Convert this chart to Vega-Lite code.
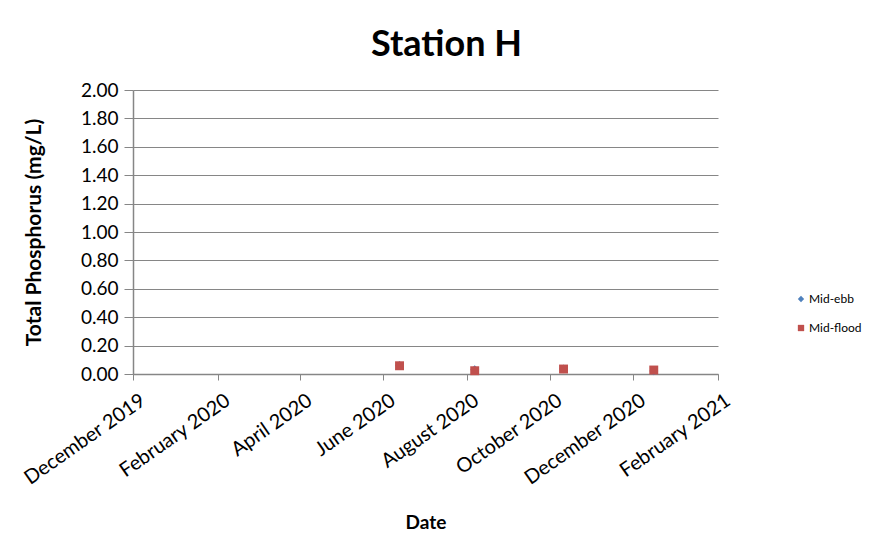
{
  "$schema": "https://vega.github.io/schema/vega-lite/v6.json",
  "autosize": "none",
  "width": 585,
  "height": 284,
  "padding": {"left": 133, "top": 90, "right": 152, "bottom": 179},
  "background": "white",
  "config": {"font": "Lato", "view": {"stroke": null}},
  "title": {"text": "Station H", "fontSize": 36, "fontWeight": "bold", "font": "Lato", "color": "#000000", "anchor": "middle", "dx": 21, "offset": 17},
  "data": {
    "values": [
      {"date": "2020-06-13", "value": 0.060, "series": "Mid-ebb"},
      {"date": "2020-08-07", "value": 0.030, "series": "Mid-ebb"},
      {"date": "2020-10-11", "value": 0.036, "series": "Mid-ebb"},
      {"date": "2020-12-16", "value": 0.022, "series": "Mid-ebb"},
      {"date": "2020-06-13", "value": 0.058, "series": "Mid-flood"},
      {"date": "2020-08-07", "value": 0.023, "series": "Mid-flood"},
      {"date": "2020-10-11", "value": 0.035, "series": "Mid-flood"},
      {"date": "2020-12-16", "value": 0.028, "series": "Mid-flood"}
    ]
  },
  "mark": {"type": "point", "filled": true, "opacity": 1},
  "encoding": {
    "x": {
      "field": "date", "type": "temporal",
      "scale": {"domain": ["2019-12-01T00:00:00", "2021-02-01T00:00:00"], "nice": false},
      "axis": {
        "title": "Date", "titleFontSize": 19, "titleFontWeight": "bold", "titleColor": "#000", "titlePadding": 25,
        "values": ["2019-12-01T00:00:00", "2020-02-01T00:00:00", "2020-04-01T00:00:00", "2020-06-01T00:00:00", "2020-08-01T00:00:00", "2020-10-01T00:00:00", "2020-12-01T00:00:00", "2021-02-01T00:00:00"],
        "format": "%B %Y", "labelAngle": -35, "labelAlign": "right", "labelBaseline": "top",
        "labelFontSize": 20, "labelColor": "#000", "labelPadding": 10, "labelOffset": 4, "labelOverlap": false, "labelFlush": false,
        "grid": false, "domainColor": "#868686", "tickColor": "#868686", "tickSize": 6, "domainWidth": 1.5
      }
    },
    "y": {
      "field": "value", "type": "quantitative",
      "scale": {"domain": [0, 2], "nice": false},
      "axis": {
        "title": "Total Phosphorus (mg/L)", "titleFontSize": 21, "titleFontWeight": "bold", "titleColor": "#000", "titlePadding": 36,
        "values": [0, 0.2, 0.4, 0.6, 0.8, 1.0, 1.2, 1.4, 1.6, 1.8, 2.0], "format": ".2f",
        "labelFontSize": 19, "labelColor": "#000", "labelPadding": 6,
        "grid": true, "gridColor": "#868686", "gridWidth": 1,
        "domainColor": "#868686", "tickColor": "#868686", "tickSize": 9, "domainWidth": 1.5
      }
    },
    "color": {
      "field": "series", "type": "nominal",
      "scale": {"domain": ["Mid-ebb", "Mid-flood"], "range": ["#4F81BD", "#C0504D"]},
      "legend": {"title": null, "orient": "none", "legendX": 662, "legendY": 203, "labelFontSize": 12, "labelColor": "#000", "rowPadding": 17, "symbolSize": 40, "labelOffset": 2}
    },
    "shape": {
      "field": "series", "type": "nominal",
      "scale": {"domain": ["Mid-ebb", "Mid-flood"], "range": ["diamond", "square"]},
      "legend": null
    },
    "size": {"value": 80},
    "order": {"field": "series", "sort": "ascending"}
  }
}
